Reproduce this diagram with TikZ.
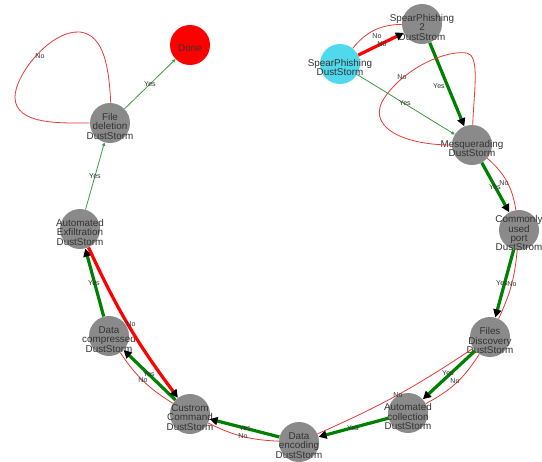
\documentclass[tikz,border=0pt]{standalone}
\usepackage{fontspec}
\setmainfont{Liberation Sans}
\usetikzlibrary{arrows.meta}
\definecolor{ngray}{HTML}{8A8A8A}
\definecolor{ncyan}{HTML}{50D8EC}
\definecolor{tgreen}{HTML}{008000}
\definecolor{lgreen}{HTML}{3E9A3E}
\definecolor{lred}{HTML}{E83A3A}
\definecolor{txt}{HTML}{333333}
\begin{document}
\begin{tikzpicture}[x=0.75pt,y=-0.75pt,
  nd/.style={circle,fill=ngray,minimum size=30pt,inner sep=0pt},
  ntx/.style={font=\fontsize{7.4}{7}\selectfont,text=txt,align=center,inner sep=0pt,yshift=-2.6pt},
  lab/.style={font=\fontsize{5.3}{6}\selectfont,text=txt,inner sep=0pt},
  thickg/.style={draw=tgreen,line width=2.4pt,-{Triangle[length=6pt,width=6pt,color=black]}},
  thickr/.style={draw=red,line width=2.4pt,-{Triangle[length=6pt,width=6pt,color=black]}},
  thing/.style={draw=lgreen,line width=0.6pt,-{Triangle[length=2.5pt,width=2.5pt]}},
  thinr/.style={draw=lred,line width=0.6pt},
]
\useasboundingbox[fill=white] (0,0) rectangle (542,461);

% nodes
\node[nd,fill=ncyan,label={[ntx]center:SpearPhishing\\DustStorm}] (SP) at (340,64) {};
\node[nd,label={[ntx]center:SpearPhishing\\2\\DustStrom}] (SP2) at (422,24) {};
\node[nd,label={[ntx]center:Mesquerading\\DustStorm}] (MQ) at (472,145) {};
\node[nd,label={[ntx]center:Commonly\\used\\port\\DustStrom}] (CP) at (519,230) {};
\node[nd,label={[ntx]center:Files\\Discovery\\DustStorm}] (FD) at (490,337) {};
\node[nd,label={[ntx]center:Automated\\collection\\DustStorm}] (AC) at (408,413) {};
\node[nd,label={[ntx]center:Data\\encoding\\DustStorm}] (DE) at (299,442) {};
\node[nd,label={[ntx]center:Custrom\\Command\\DustStorm}] (CC) at (190,414) {};
\node[nd,label={[ntx]center:Data\\compressed\\DustStorm}] (DC) at (109,336) {};
\node[nd,label={[ntx]center:Automated\\Exfiltration\\DustStorm}] (AE) at (80,229) {};
\node[nd,label={[ntx]center:File\\deletion\\DustStorm}] (FDel) at (110,123) {};
\node[nd,fill=red,label={[ntx]center:Done}] (Done) at (190,45) {};

% edges
\draw[thinr] (SP) to[bend left=25] (SP2);
\draw[thickr] (SP) -- (SP2);
\draw[thing] (SP) -- (MQ);
\draw[thickg] (SP2) -- (MQ);
\draw[thinr] (MQ.180) .. controls (400,145) and (365,125) .. (385,97)
  .. controls (405,68) and (445,50) .. (467,53)
  .. controls (480,56) and (474,90) .. (MQ.88);
\draw[thinr] (MQ) to[bend left=20] (CP);
\draw[thickg] (MQ) -- (CP);
\draw[thinr] (CP) to[bend left=10] (FD);
\draw[thickg] (CP) -- (FD);
\draw[thinr] (FD) to[bend left=15] (AC);
\draw[thickg] (FD) -- (AC);
\draw[thinr] (FD) to[bend left=5] (DE);
\draw[thickg] (AC) -- (DE);
\draw[thinr] (DE) to[bend left=12] (CC);
\draw[thickg] (DE) -- (CC);
\draw[thinr] (CC) to[bend left=12] (DC);
\draw[thickg] (CC) -- (DC);
\draw[thickg] (DC) -- (AE);
\draw[thickr] (AE) to[bend right=6] (CC);
\draw[thing] (AE) -- (FDel);
\draw[thinr] (FDel.88) .. controls (109,70) and (105,35) .. (80,32)
  .. controls (50,30) and (15,75) .. (15,97)
  .. controls (15,125) and (60,123) .. (FDel.180);
\draw[thing] (FDel) -- (Done);

% labels
\node[lab] (l1) at (377,36) {No};
\node[lab] (l2) at (382,44) {No};
\node[lab] (l3) at (405,103) {Yes};
\node[lab] (l4) at (439,86) {Yes};
\node[lab] (l5) at (402,77) {No};
\node[lab] (l6) at (495,187) {Yes};
\node[lab] (l7) at (504,183) {No};
\node[lab] (l8) at (502,283) {Yes};
\node[lab] (l9) at (512,284) {No};
\node[lab] (l10) at (448,373) {Yes};
\node[lab] (l11) at (455,381) {No};
\node[lab] (l12) at (398,395) {No};
\node[lab] (l13) at (353,428) {Yes};
\node[lab] (l14) at (245,428) {Yes};
\node[lab] (l15) at (243,436) {No};
\node[lab] (l16) at (149,374) {Yes};
\node[lab] (l17) at (143,380) {No};
\node[lab] (l18) at (94,283) {Yes};
\node[lab] (l19) at (131,324) {No};
\node[lab] (l20) at (95,176) {Yes};
\node[lab] (l21) at (40,56) {No};
\node[lab] (l22) at (150,84) {Yes};
\end{tikzpicture}
\end{document}
